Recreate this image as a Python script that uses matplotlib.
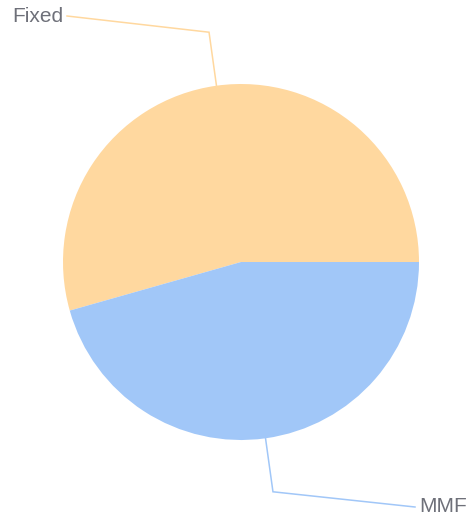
import numpy as np
import matplotlib
matplotlib.use("Agg")
import matplotlib.pyplot as plt

labels = ["Fixed", "MMF"]
values = [54.4, 45.6]
colors = ["#FFD89F", "#A1C7F8"]

# label anchor positions (pixel coords, y from top)
label_xy = [(67, 16), (415, 507)]

W, H = 470, 518
fig = plt.figure(figsize=(W / 100, H / 100), dpi=100)
ax = fig.add_axes([0, 0, 1, 1])
ax.set_xlim(0, W)
ax.set_ylim(0, H)
ax.set_aspect("equal")
ax.axis("off")

cx, cy, r = 241, H - 262, 178
wedges, _ = ax.pie(values, colors=colors, startangle=0, counterclock=True,
                   center=(cx, cy), radius=r, frame=True,
                   wedgeprops=dict(linewidth=0))
ax.set_xlim(0, W)
ax.set_ylim(0, H)
ax.axis("off")

for w, lab, (lx, ly), col in zip(wedges, labels, label_xy, colors):
  mid = np.deg2rad((w.theta1 + w.theta2) / 2)
  x0, y0 = cx + r * np.cos(mid), cy + r * np.sin(mid)
  x1, y1 = cx + 232 * np.cos(mid), cy + 232 * np.sin(mid)
  ax.plot([x0, x1, lx], [y0, y1, H - ly], color=col, lw=1.1, solid_joinstyle="miter")
  ha = "right" if lx < cx else "left"
  dx = -4 if lx < cx else 4
  ax.text(lx + dx, H - ly, lab, ha=ha, va="center", color="#6E7079",
          fontsize=15, family="Liberation Sans")

fig.savefig("out.png", dpi=100)
